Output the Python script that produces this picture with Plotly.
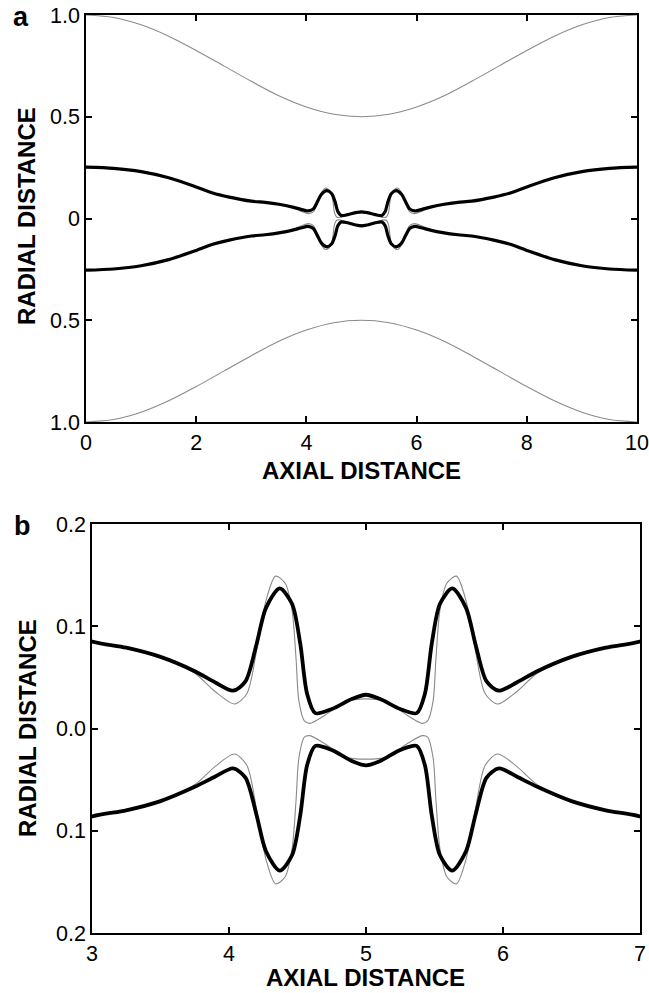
import plotly.graph_objects as go

# ---- data: channel wall (thin grey), upper/lower free surfaces ----
wall_x = [0, 0.5, 1.0, 1.5, 2.0, 2.5, 3.0, 3.5, 4.0, 4.5, 5.0,
          5.5, 6.0, 6.5, 7.0, 7.5, 8.0, 8.5, 9.0, 9.5, 10.0]
wall_upper = [1.0, 0.988, 0.952, 0.896, 0.826, 0.75, 0.674, 0.603, 0.548, 0.512, 0.5,
              0.512, 0.548, 0.603, 0.674, 0.75, 0.826, 0.896, 0.952, 0.988, 1.0]
wall_lower = [-1.0, -0.988, -0.952, -0.896, -0.826, -0.75, -0.674, -0.603, -0.548, -0.512, -0.5,
              -0.512, -0.548, -0.603, -0.674, -0.75, -0.826, -0.896, -0.952, -0.988, -1.0]

# thick black interface
surf_x = [0, 0.5, 1.0, 1.5, 2.0, 2.3, 2.6, 3.0, 3.25, 3.5, 3.75, 3.9, 4.03, 4.12, 4.2, 4.27,
          4.37, 4.46, 4.52, 4.57, 4.63, 4.75, 4.9, 5.0,
          5.1, 5.25, 5.37, 5.43, 5.48, 5.54, 5.63, 5.73, 5.8, 5.88, 5.97, 6.1, 6.25, 6.5,
          6.75, 7.0, 7.4, 7.7, 8.0, 8.5, 9.0, 9.5, 10.0]
surf_upper = [0.252, 0.246, 0.230, 0.200, 0.155, 0.125, 0.105, 0.085, 0.079, 0.070, 0.056, 0.045,
              0.037, 0.046, 0.082, 0.118, 0.137, 0.122, 0.083, 0.034, 0.015, 0.019, 0.029, 0.033,
              0.029, 0.019, 0.015, 0.034, 0.083, 0.122, 0.137, 0.118, 0.082, 0.046, 0.037, 0.045,
              0.056, 0.070, 0.079, 0.085, 0.105, 0.125, 0.155, 0.200, 0.230, 0.246, 0.252]
surf_lower = [-0.254, -0.248, -0.232, -0.202, -0.157, -0.127, -0.106, -0.086, -0.080, -0.071,
              -0.057, -0.047, -0.039, -0.048, -0.084, -0.120, -0.139, -0.124, -0.085, -0.036,
              -0.017, -0.021, -0.032, -0.036, -0.032, -0.021, -0.017, -0.036, -0.085, -0.124,
              -0.139, -0.120, -0.084, -0.048, -0.039, -0.047, -0.057, -0.071, -0.080, -0.086,
              -0.106, -0.127, -0.157, -0.202, -0.232, -0.248, -0.254]

# thin grey comparison interface
ref_x = [3.0, 3.5, 3.75, 3.9, 4.04, 4.13, 4.2, 4.27, 4.34, 4.41, 4.46, 4.49, 4.51, 4.55, 4.59,
         4.7, 4.85, 5.0, 5.15, 5.3, 5.41, 5.45, 5.49, 5.51, 5.54, 5.59, 5.66, 5.73, 5.8,
         5.87, 5.96, 6.1, 6.25, 6.5, 7.0]
ref_upper = [0.085, 0.070, 0.054, 0.036, 0.024, 0.034, 0.075, 0.125, 0.149, 0.142, 0.116,
             0.067, 0.027, 0.0075, 0.005, 0.013, 0.026, 0.029, 0.026, 0.013, 0.005, 0.0075,
             0.027, 0.067, 0.116, 0.142, 0.149, 0.125, 0.075, 0.034, 0.024, 0.036, 0.054,
             0.070, 0.085]
ref_lower = [-0.086, -0.071, -0.055, -0.037, -0.025, -0.036, -0.078, -0.128, -0.152, -0.145,
             -0.118, -0.069, -0.029, -0.0085, -0.007, -0.015, -0.028, -0.030, -0.028, -0.015,
             -0.007, -0.0085, -0.029, -0.069, -0.118, -0.145, -0.152, -0.128, -0.078, -0.036,
             -0.025, -0.037, -0.055, -0.071, -0.086]

top_xticks = [0, 2, 4, 6, 8, 10]
top_yticks = [-1.0, -0.5, 0.0, 0.5, 1.0]
top_yticktext = ["1.0", "0.5", "0", "0.5", "1.0"]
bot_xticks = [3, 4, 5, 6, 7]
bot_yticks = [-0.2, -0.1, 0.0, 0.1, 0.2]
bot_yticktext = ["0.2", "0.1", "0.0", "0.1", "0.2"]

W, H = 649, 993
FONT = "Liberation Sans, Arial, sans-serif"
GREY = "#8a8a8a"


def fx(px):
    return px / W


def fy(py):
    return 1 - py / H


fig = go.Figure()


def add_line(x, y, xa, ya, color, width):
    fig.add_trace(go.Scatter(x=x, y=y, xaxis=xa, yaxis=ya, mode="lines",
                             line=dict(color=color, width=width, shape="spline", smoothing=0.8),
                             hoverinfo="skip", showlegend=False))


# panel a
add_line(wall_x, wall_upper, "x", "y", GREY, 1.1)
add_line(wall_x, wall_lower, "x", "y", GREY, 1.1)
add_line(ref_x, ref_upper, "x", "y", GREY, 1.1)
add_line(ref_x, ref_lower, "x", "y", GREY, 1.1)
add_line(surf_x, surf_upper, "x", "y", "black", 3.2)
add_line(surf_x, surf_lower, "x", "y", "black", 3.2)

# panel b
add_line(ref_x, ref_upper, "x2", "y2", GREY, 1.1)
add_line(ref_x, ref_lower, "x2", "y2", GREY, 1.1)
add_line(surf_x, surf_upper, "x2", "y2", "black", 3.8)
add_line(surf_x, surf_lower, "x2", "y2", "black", 3.8)

# fixed plot areas: no automatic margin growth from tick labels
axis_common = dict(showline=True, linecolor="black", linewidth=1.5, mirror="ticks",
                   ticks="inside", ticklen=6, tickwidth=1.5, tickcolor="black",
                   showgrid=False, zeroline=False, automargin=False,
                   ticklabeloverflow="allow",
                   tickfont=dict(family=FONT, size=21.5, color="black"))

fig.update_layout(
    width=W, height=H,
    margin=dict(l=0, r=0, t=0, b=0, pad=0, autoexpand=False),
    paper_bgcolor="white", plot_bgcolor="white", showlegend=False,
    xaxis=dict(domain=[fx(86), fx(637)], range=[0, 10], tickvals=top_xticks,
               anchor="y", **axis_common),
    yaxis=dict(domain=[fy(422), fy(15)], range=[-1, 1], tickvals=top_yticks,
               ticktext=top_yticktext, anchor="x", **axis_common),
    xaxis2=dict(domain=[fx(92), fx(640)], range=[3, 7], tickvals=bot_xticks,
                anchor="y2", **axis_common),
    yaxis2=dict(domain=[fy(933), fy(524)], range=[-0.2, 0.2], tickvals=bot_yticks,
                ticktext=bot_yticktext, anchor="x2", **axis_common),
)

title_font = dict(family=FONT, size=24, color="black")
letter_font = dict(family=FONT, size=27, color="black")


def px_ann(text, x, y, font, angle=0):
    fig.add_annotation(text=f"<b>{text}</b>", xref="paper", yref="paper",
                       x=fx(x), y=fy(y), showarrow=False, font=font, textangle=angle,
                       xanchor="center", yanchor="middle", borderpad=0)


px_ann("AXIAL DISTANCE", 361.5, 471, title_font)
px_ann("AXIAL DISTANCE", 366, 977, title_font)
px_ann("RADIAL DISTANCE", 27, 216, title_font, angle=-90)
px_ann("RADIAL DISTANCE", 27, 728, title_font, angle=-90)
px_ann("a", 21, 17, letter_font)
px_ann("b", 22, 526, letter_font)

fig.write_html("out.html")
